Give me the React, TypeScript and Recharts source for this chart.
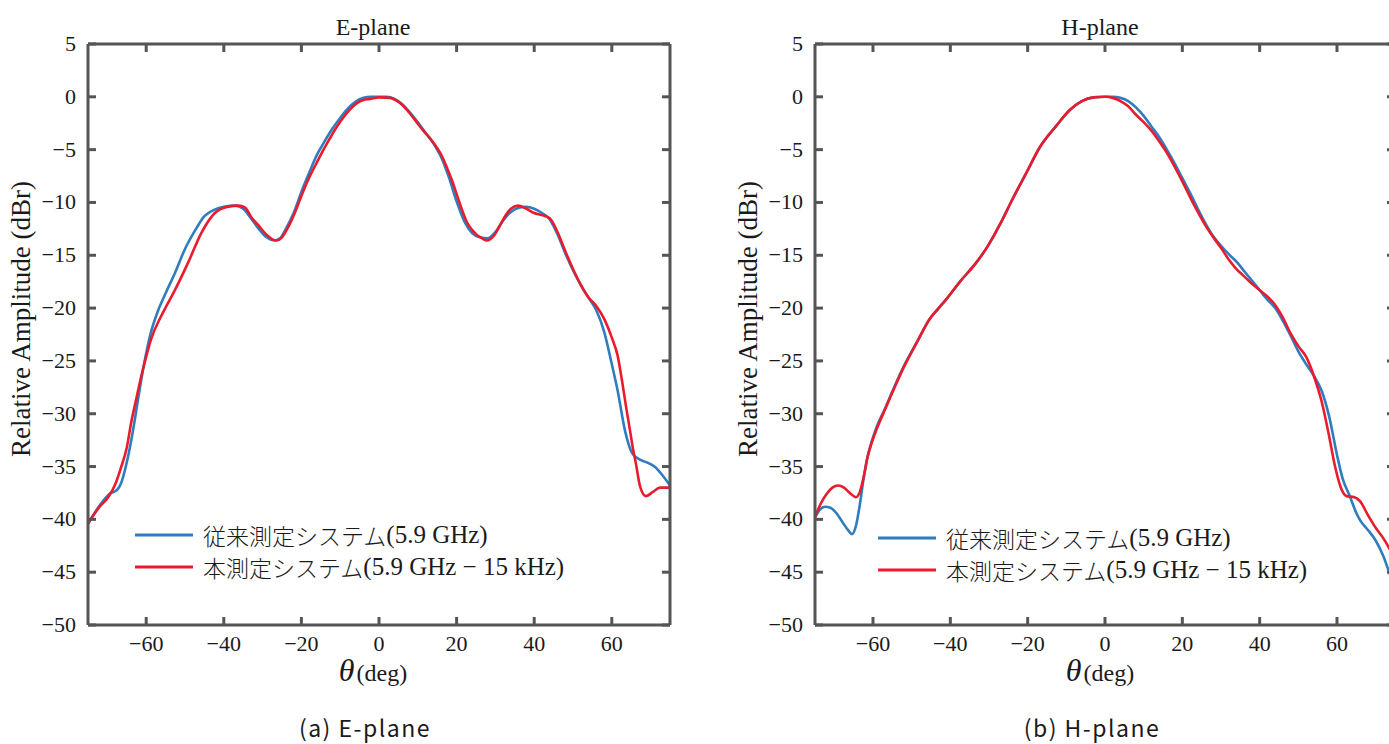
import React from 'react';
import { LineChart, Line, XAxis, YAxis, Legend } from 'recharts';

// ---------- ticks ----------
const thetaTicks = [-60, -40, -20, 0, 20, 40, 60];
const ampTicks = [5, 0, -5, -10, -15, -20, -25, -30, -35, -40, -45, -50];

// ---------- E-plane: conventional system (blue) ----------
const eBlueTheta = [-75, -72, -69.5, -67.5, -66.5, -65, -63.5, -62, -60.5, -59, -57, -55, -52.5, -50, -47, -45, -42.5, -40, -37, -35, -33, -31, -29, -27, -25.5, -24, -22, -20, -18, -16, -14, -12, -10, -8, -6, -4, -2, 0, 2, 4, 6, 8, 10, 12, 14, 16, 18, 20, 22, 24, 26, 28, 30, 32, 34, 36, 38, 40, 42, 44, 46, 48, 50, 52, 54, 56, 58, 60, 61.5, 63.4, 65.2, 67, 69, 71, 73, 75];
const eBlueAmp = [-40.4, -38.7, -37.6, -37.2, -36.6, -34.6, -31.8, -28.4, -25.2, -22.6, -20.3, -18.6, -16.6, -14.4, -12.4, -11.3, -10.7, -10.4, -10.3, -10.6, -11.5, -12.5, -13.3, -13.6, -13.4, -12.5, -11.0, -9.0, -7.2, -5.5, -4.2, -3.0, -2.0, -1.1, -0.45, -0.1, 0, 0, 0, -0.2, -0.7, -1.5, -2.4, -3.4, -4.4, -5.7, -7.6, -9.9, -11.8, -12.9, -13.3, -13.4, -12.8, -11.7, -10.9, -10.5, -10.4, -10.6, -11.0, -11.6, -13.0, -14.8, -16.4, -17.8, -19.0, -20.2, -22.2, -25.3, -27.8, -31.6, -33.7, -34.3, -34.6, -35.0, -35.8, -36.8];

// ---------- E-plane: proposed system (red) ----------
const eRedTheta = [-75, -72, -69.8, -68, -66.5, -65, -63.9, -62.5, -61.3, -60, -58.8, -56.2, -54.5, -52.6, -49.2, -45.8, -42.3, -38.9, -36.3, -34.5, -32.9, -31, -29.4, -26.5, -25, -23.5, -21.5, -19.6, -17.8, -16, -14.3, -12.6, -11, -9.3, -7.5, -5.7, -4, -2.3, 0, 2.8, 4.5, 6.1, 8, 9.7, 11.4, 13.1, 14.9, 16.2, 17.5, 18.8, 20.1, 21.4, 22.7, 24, 25.3, 26.6, 27.8, 29.5, 31, 32.5, 34, 35.8, 38, 40, 42, 44, 46, 48, 50, 52, 54, 56, 58, 60, 61.5, 62.6, 63.7, 64.7, 65.5, 66.2, 67.3, 68.8, 70.6, 72.4, 75];
const eRedAmp = [-40.4, -38.8, -37.9, -36.7, -35.1, -33.2, -30.9, -28.5, -26.5, -24.6, -23.0, -20.8, -19.6, -18.3, -15.7, -12.9, -11.0, -10.4, -10.3, -10.5, -11.4, -12.2, -12.9, -13.6, -13.3, -12.4, -10.8, -9.0, -7.5, -6.2, -5.0, -3.9, -2.9, -2.0, -1.2, -0.6, -0.3, -0.2, -0.05, -0.1, -0.35, -0.8, -1.6, -2.4, -3.2, -3.9, -4.8, -5.6, -6.7, -7.9, -9.3, -10.7, -11.9, -12.6, -13.1, -13.4, -13.6, -13.2, -12.3, -11.3, -10.6, -10.3, -10.6, -11.0, -11.2, -11.5, -12.8, -14.6, -16.3, -17.8, -19.0, -19.8, -21.0, -22.8, -24.5, -26.8, -29.4, -31.6, -33.4, -34.7, -36.9, -37.8, -37.4, -37.0, -37.0];

// ---------- H-plane: conventional system (blue) ----------
const hBlueTheta = [-75, -73.5, -72.4, -71, -69.5, -68, -66.5, -65.4, -64.4, -63.4, -62.5, -61.6, -60.3, -59, -57, -55, -52.3, -48.6, -45.3, -43, -40.9, -37.5, -33.1, -30.6, -27.2, -23.8, -20.2, -16.9, -12.5, -9.1, -6, -3, 0, 2, 4, 6, 8, 10, 12, 14, 16, 18, 20, 22, 24, 26, 28, 30, 32, 34, 36, 38, 40, 42, 44, 46, 48, 50, 52, 54, 56, 58, 60, 61.5, 63.2, 65, 66, 68, 70, 72, 73.3, 75];
const hBlueAmp = [-39.8, -39.0, -38.8, -38.9, -39.4, -40.2, -41.0, -41.4, -40.6, -38.6, -36.3, -34.4, -32.6, -31.2, -29.6, -27.9, -25.7, -23.2, -21.0, -20.0, -19.1, -17.5, -15.6, -14.3, -12.1, -9.6, -7.1, -4.8, -2.7, -1.25, -0.4, -0.05, 0, 0, -0.1, -0.4, -1.0, -1.8, -2.8, -3.8, -5.0, -6.3, -7.7, -9.1, -10.6, -12.0, -13.2, -14.1, -14.9, -15.6, -16.5, -17.4, -18.3, -19.2, -20.0, -21.2, -22.6, -24.1, -25.3, -26.4, -27.8, -30.3, -33.9, -36.2, -37.7, -39.4, -40.1, -41.0, -42.0, -43.5, -44.8, -46.5];

// ---------- H-plane: proposed system (red) ----------
const hRedTheta = [-75, -73.5, -72, -70.5, -69, -67.5, -66, -64.4, -63.4, -62.3, -61.4, -60.3, -59, -57, -55, -52.3, -48.6, -45.3, -43, -40.9, -37.5, -33.1, -30.6, -27.2, -23.8, -20.2, -16.9, -12.5, -9.1, -6, -3, 0, 2, 4, 6, 8, 10, 12, 14, 16, 18, 20, 22, 24, 26, 28, 30, 32, 34, 36, 38, 40, 42, 44, 46, 48, 50, 52, 54, 56, 58, 59.5, 61, 62.5, 64.5, 66, 68, 70, 72, 73.3, 75];
const hRedAmp = [-39.8, -38.5, -37.6, -37.0, -36.8, -37.0, -37.5, -37.9, -37.4, -35.8, -34.1, -32.7, -31.4, -29.7, -28.0, -25.8, -23.2, -21.0, -20.0, -19.1, -17.5, -15.6, -14.3, -12.1, -9.6, -7.1, -4.8, -2.7, -1.25, -0.4, -0.05, 0, -0.1, -0.4, -0.9, -1.7, -2.4, -3.2, -4.2, -5.3, -6.6, -8.0, -9.5, -10.9, -12.2, -13.3, -14.3, -15.4, -16.3, -17.0, -17.7, -18.3, -18.9, -19.7, -20.9, -22.4, -23.6, -24.6, -26.4, -28.8, -32.2, -35.0, -37.0, -37.8, -37.9, -38.3, -39.6, -40.8, -41.8, -42.6, -43.8];

// ---------- labels ----------
const seriesNames = ['従来測定システム', '本測定システム'];
const seriesSuffix = ['(5.9 GHz)', '(5.9 GHz − 15 kHz)'];
const panelTitles = ['E-plane', 'H-plane'];
const panelCaptions = ['(a) E-plane', '(b) H-plane'];
const yLabel = 'Relative Amplitude (dBr)';

const toPoints = (t: number[], a: number[]) => t.map((x, i) => ({ theta: x, amp: a[i] }));

const SERIF = '"Liberation Serif", "Times New Roman", serif';
const JP = '"Noto Sans CJK JP", "Noto Sans", sans-serif';
const AXIS = '#555555';
const TEXT = '#1a1a1a';
const BLUE = '#2f7cbf';
const RED = '#ea1b2d';
const TICK_LEN = 8;

const fmt = (v: number) => (v < 0 ? '\u2212' + Math.abs(v) : String(v));
const tickTextStyle = { fontFamily: SERIF, fontSize: 22, fill: TEXT };

const BottomTick = (p: any) => {
  const { x, y, payload } = p;
  return (
    <g>
      <line x1={x} y1={y} x2={x} y2={y - TICK_LEN} stroke={AXIS} strokeWidth={3} />
      <text x={x} y={y + 26} textAnchor="middle" style={tickTextStyle}>
        {fmt(payload.value)}
      </text>
    </g>
  );
};
const TopTick = (p: any) => {
  const { x, y } = p;
  return <line x1={x} y1={y} x2={x} y2={y + TICK_LEN} stroke={AXIS} strokeWidth={3} />;
};
const LeftTick = (p: any) => {
  const { x, y, payload } = p;
  return (
    <g>
      <line x1={x} y1={y} x2={x + TICK_LEN} y2={y} stroke={AXIS} strokeWidth={3} />
      <text x={x - 12} y={y + 7} textAnchor="end" style={tickTextStyle}>
        {fmt(payload.value)}
      </text>
    </g>
  );
};
const RightTick = (p: any) => {
  const { x, y } = p;
  return <line x1={x} y1={y} x2={x - TICK_LEN} y2={y} stroke={AXIS} strokeWidth={3} />;
};

const LegendBox = () => (
  <div style={{ display: 'flex', flexDirection: 'column' }}>
    {[BLUE, RED].map((c, i) => (
      <div key={i} style={{ display: 'flex', alignItems: 'center', height: 32, whiteSpace: 'nowrap' }}>
        <svg width={58} height={6} style={{ marginRight: 10 }}>
          <line x1={0} y1={3} x2={58} y2={3} stroke={c} strokeWidth={3} />
        </svg>
        <span style={{ fontFamily: JP, fontSize: 23, color: TEXT, fontWeight: 300 }}>{seriesNames[i]}</span>
        <span style={{ fontFamily: SERIF, fontSize: 25, color: TEXT }}>{seriesSuffix[i]}</span>
      </div>
    ))}
  </div>
);

const axisLineStyle = { stroke: AXIS, strokeWidth: 3 };

const Panel = ({ idx, left, rightWidth, blue, red, legendLeft, legendTop }: any) => (
  <div style={{ position: 'absolute', left, top: 0, width: 700, height: 744 }}>
    <LineChart width={700} height={744} margin={{ top: 14, left: 28, right: 0, bottom: 89 }}>
      <XAxis xAxisId="b" dataKey="theta" type="number" domain={[-75, 75]} ticks={thetaTicks} interval={0}
        allowDataOverflow height={30} tickSize={0} tickMargin={0} tickLine={false} axisLine={axisLineStyle} tick={BottomTick} />
      <XAxis xAxisId="t" orientation="top" dataKey="theta" type="number" domain={[-75, 75]} ticks={thetaTicks} interval={0}
        allowDataOverflow height={30} tickSize={0} tickMargin={0} tickLine={false} axisLine={axisLineStyle} tick={TopTick} />
      <YAxis yAxisId="l" type="number" domain={[-50, 5]} ticks={ampTicks} interval={0}
        allowDataOverflow width={60} tickSize={0} tickMargin={0} tickLine={false} axisLine={axisLineStyle} tick={LeftTick} />
      <YAxis yAxisId="r" orientation="right" type="number" domain={[-50, 5]} ticks={ampTicks} interval={0}
        allowDataOverflow width={rightWidth} tickSize={0} tickMargin={0} tickLine={false} axisLine={axisLineStyle} tick={RightTick} />
      <Legend layout="vertical" align="center" verticalAlign="middle" content={() => <LegendBox />}
        wrapperStyle={{ position: 'absolute', left: legendLeft, top: legendTop, width: 'auto', height: 'auto' }} />
      <Line xAxisId="b" yAxisId="l" data={blue} dataKey="amp" name={seriesNames[0]} type="monotone"
        stroke={BLUE} strokeWidth={2.6} dot={false} activeDot={false} isAnimationActive={false} />
      <Line xAxisId="b" yAxisId="l" data={red} dataKey="amp" name={seriesNames[1]} type="monotone"
        stroke={RED} strokeWidth={2.6} dot={false} activeDot={false} isAnimationActive={false} />
    </LineChart>
    <div style={{ position: 'absolute', left: 88, width: 582, top: 12, textAlign: 'center', paddingRight: 12, boxSizing: 'border-box',
      fontFamily: SERIF, fontSize: 24, color: TEXT, lineHeight: '30px' }}>
      {panelTitles[idx]}
    </div>
    <div style={{ position: 'absolute', left: 21, top: 319, width: 0, height: 0 }}>
      <div style={{ position: 'absolute', transform: 'translate(-50%, -50%) rotate(-90deg)', whiteSpace: 'nowrap',
        fontFamily: SERIF, fontSize: 27, color: TEXT, lineHeight: '30px' }}>
        {yLabel}
      </div>
    </div>
    <div style={{ position: 'absolute', left: 88, width: 582, top: 652, textAlign: 'center', fontFamily: SERIF, color: TEXT,
      lineHeight: '36px', paddingRight: 12, boxSizing: 'border-box' }}>
      <span style={{ fontStyle: 'italic', fontSize: 32 }}>θ</span>
      <span style={{ fontSize: 24, marginLeft: 2 }}>(deg)</span>
    </div>
    <div style={{ position: 'absolute', left: 60, width: 610, top: 712, textAlign: 'center', fontFamily: JP, color: TEXT,
      fontSize: 23, lineHeight: '30px', letterSpacing: 1.5 }}>
      {panelCaptions[idx]}
    </div>
  </div>
);

export default function App() {
  const eBlue = toPoints(eBlueTheta, eBlueAmp);
  const eRed = toPoints(eRedTheta, eRedAmp);
  const hBlue = toPoints(hBlueTheta, hBlueAmp);
  const hRed = toPoints(hRedTheta, hRedAmp);
  return (
    <div style={{ position: 'absolute', left: 0, top: 0, width: 1389, height: 744, overflow: 'hidden', background: '#fff' }}>
      <Panel idx={0} left={0} rightWidth={30} blue={eBlue} red={eRed} legendLeft={135} legendTop={519} />
      <Panel idx={1} left={727} rightWidth={32} blue={hBlue} red={hRed} legendLeft={151} legendTop={522} />
    </div>
  );
}
